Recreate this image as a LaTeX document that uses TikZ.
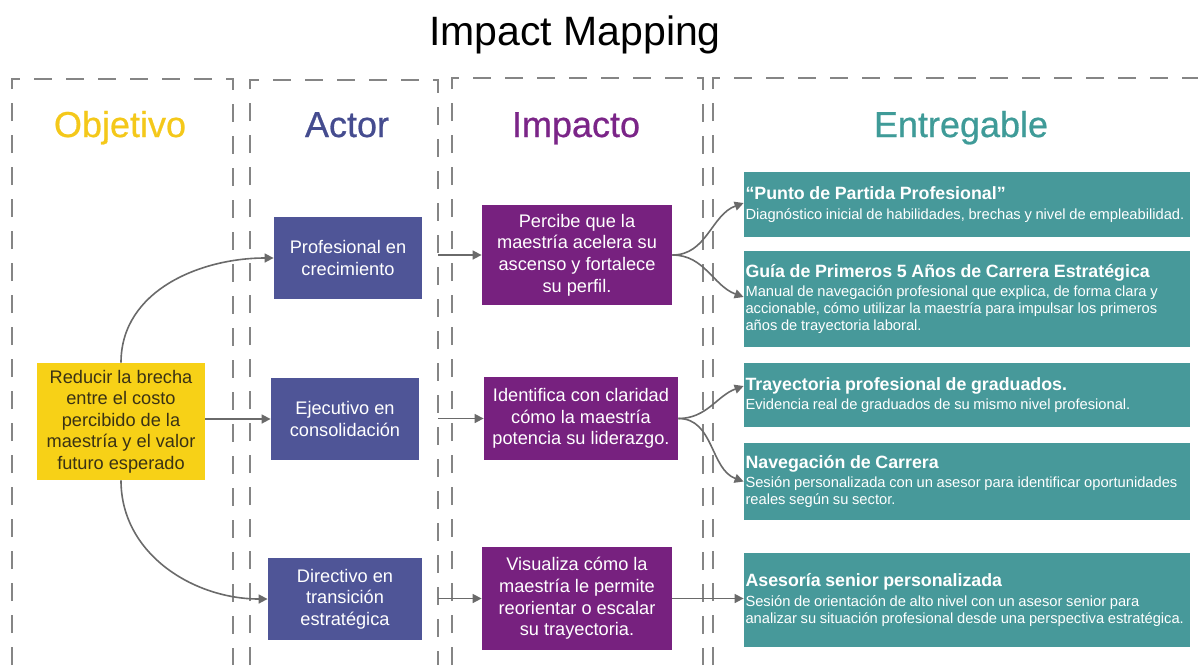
\documentclass[tikz,border=0pt]{standalone}
\usepackage{fontspec}
\setmainfont{Liberation Sans}
\newfontfamily\headfont{Liberation Sans}[FakeBold=0.7]
\usetikzlibrary{arrows.meta}

\definecolor{objyellow}{HTML}{F7D117}
\definecolor{objhead}{HTML}{F4C81A}
\definecolor{objtext}{HTML}{3A3214}
\definecolor{actblue}{HTML}{4F5597}
\definecolor{acthead}{HTML}{454C8F}
\definecolor{imppurple}{HTML}{77217F}
\definecolor{imphead}{HTML}{7B2588}
\definecolor{entteal}{HTML}{47999A}
\definecolor{enthead}{HTML}{3F9B98}
\definecolor{linegray}{HTML}{858585}
\definecolor{arrgray}{HTML}{6A6A6A}

\newcommand{\boxfont}{\fontsize{9.1}{10.8}\selectfont}
\newcommand{\enttitle}[1]{{\raggedright\fontsize{8.9}{10.5}\selectfont\bfseries\spaceskip=0.26em plus 0.02em #1\par}\vskip1pt}
\newcommand{\entdesc}[1]{{\raggedright\fontsize{7.35}{8.6}\selectfont\spaceskip=0.25em plus 0.02em #1\par}}

\begin{document}
\begin{tikzpicture}[x=0.5pt,y=-0.5pt,
    col/.style={draw=linegray,line width=1pt,dash pattern=on 9pt off 7pt},
    head/.style={font=\headfont\fontsize{18}{20}\selectfont,anchor=base},
    objbox/.style={fill=objyellow,text=objtext,align=center,font=\boxfont,
      minimum width=84pt,minimum height=58.5pt,inner sep=1pt},
    actbox/.style={fill=actblue,text=white,align=center,font=\boxfont,
      minimum width=74pt,minimum height=41pt,inner sep=1pt},
    impbox/.style={fill=imppurple,text=white,align=center,font=\boxfont,
      minimum width=95pt,minimum height=50pt,inner sep=1pt},
    entbox/.style={fill=entteal,text=white,align=left,text width=221.5pt,
      inner xsep=0.75pt,inner ysep=1pt},
    conn/.style={draw=arrgray,line width=0.8pt,-{Triangle[length=4.5pt,width=4.5pt]}}
  ]
        \useasboundingbox (0,0) rectangle (1198,665);

        % columns
        \draw[col] (12,665) |- (233,79) -- (233,665);
        \draw[col] (250,665) |- (438,80) -- (438,665);
        \draw[col] (452,665) |- (703,78) -- (703,665);
        \draw[col] (713,665) |- (1198,78);

        \node[font=\fontsize{20.5}{22}\selectfont,anchor=base] (ttl) at (575,45) {Impact Mapping};

        \node[head,text=objhead] (hobj) at (120,137) {Objetivo};
        \node[head,text=acthead] (hact) at (347,137) {Actor};
        \node[head,text=imphead] (himp) at (576,137) {Impacto};
        \node[head,text=enthead] (hent) at (961,137) {Entregable};

        \node[objbox] (obj) at (121,421.5) {Reducir la brecha\\entre el costo\\percibido de la\\maestría y el valor\\futuro esperado};

        \node[actbox] (act1) at (348,258) {Profesional en\\crecimiento};
        \node[actbox] (act2) at (345,419) {Ejecutivo en\\consolidación};
        \node[actbox,minimum width=77pt] (act3) at (345,599) {Directivo en\\transición\\estratégica};

        \node[impbox] (imp1) at (577,255) {Percibe que la\\maestría acelera su\\ascenso y fortalece\\su perfil.};
        \node[impbox,minimum width=97pt,minimum height=41.5pt] (imp2) at (581,418.5) {Identifica con claridad\\cómo la maestría\\potencia su liderazgo.};
        \node[impbox,minimum height=51.5pt] (imp3) at (577,598.5) {Visualiza cómo la\\maestría le permite\\reorientar o escalar\\su trayectoria.};

        \node[entbox,minimum height=32.5pt] (e1) at (967,204.5) {\enttitle{“Punto de Partida Profesional”}\entdesc{Diagnóstico inicial de habilidades, brechas y nivel de empleabilidad.}};
        \node[entbox,minimum height=48pt] (e2) at (967,299) {\enttitle{Guía de Primeros 5 Años de Carrera Estratégica}\entdesc{Manual de navegación profesional que explica, de forma clara y\\accionable, cómo utilizar la maestría para impulsar los primeros\\años de trayectoria laboral.}};
        \node[entbox,minimum height=32pt] (e3) at (967,395) {\enttitle{Trayectoria profesional de graduados.}\entdesc{Evidencia real de graduados de su mismo nivel profesional.}};
        \node[entbox,minimum height=38.5pt] (e4) at (967,481.5) {\enttitle{Navegación de Carrera}\entdesc{Sesión personalizada con un asesor para identificar oportunidades\\reales según su sector.}};
        \node[entbox,minimum height=47pt] (e5) at (967,600) {\enttitle{Asesoría senior personalizada}\entdesc{Sesión de orientación de alto nivel con un asesor senior para\\analizar su situación profesional desde una perspectiva estratégica.}};

        % objetivo -> actores
        \draw[conn] (obj.north) to[out=90,in=180] (act1.west);
        \draw[conn] (obj.east |- act2.west) -- (act2.west);
        \draw[conn] (obj.south) to[out=-90,in=180] (act3.west);

        % actores -> impactos
        \coordinate (s1) at (438,255);
        \coordinate (s2) at (438,418.5);
        \coordinate (s3) at (438,598.5);
        \draw[conn] (s1) -- (imp1.west);
        \draw[conn] (s2) -- (imp2.west);
        \draw[conn] (s3) -- (imp3.west);

        % impactos -> entregables
        \draw[conn] (imp1.east) to[out=0,in=200] ([yshift=0.75pt]e1.west);
        \draw[conn] (imp1.east) to[out=0,in=160] ([yshift=1pt]e2.west);
        \draw[conn] (imp2.east) to[out=0,in=200] ([yshift=4.5pt]e3.west);
        \draw[conn] (imp2.east) to[out=0,in=160] (e4.west);
        \draw[conn] (imp3.east) -- (imp3.east -| e5.west);
      \end{tikzpicture}
\end{document}
